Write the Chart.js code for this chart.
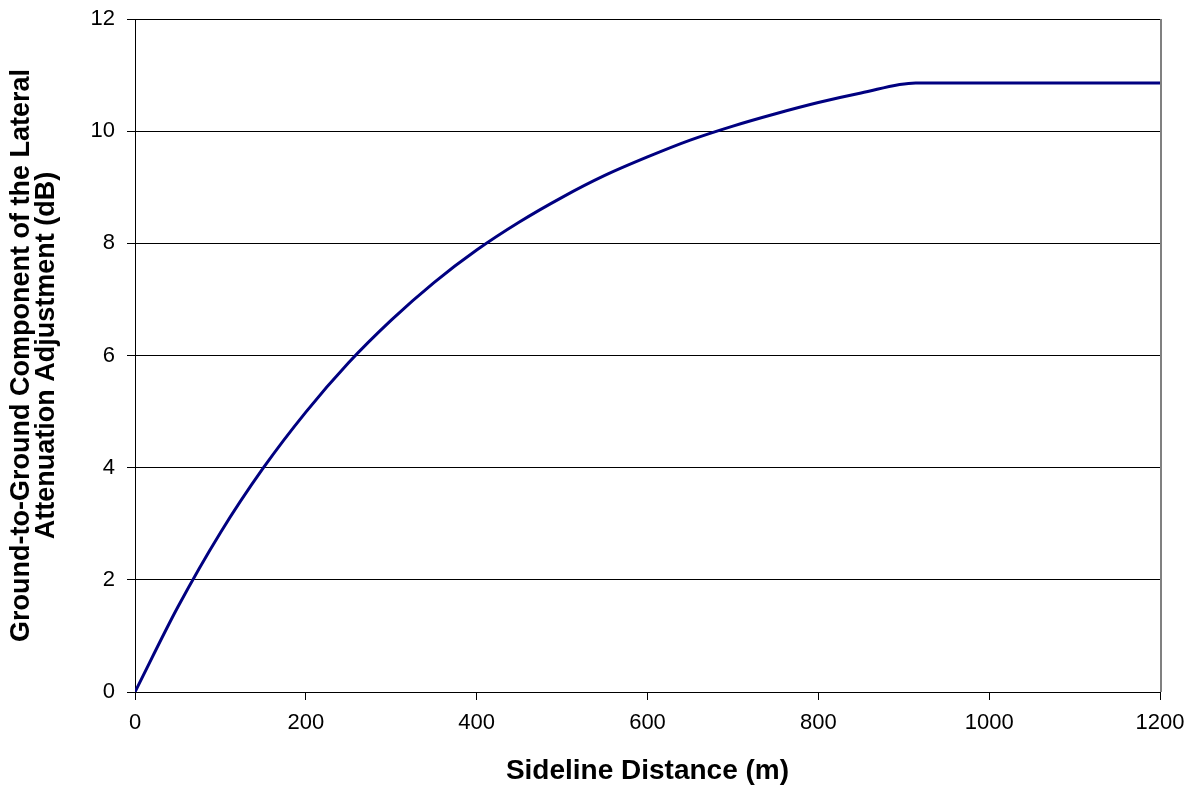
<!DOCTYPE html>
<html>
<head>
<meta charset="utf-8">
<script src="https://cdn.jsdelivr.net/npm/chart.js@4/dist/chart.umd.min.js"></script>
<style>
  html, body { margin: 0; padding: 0; background: #fff; }
  #wrap { width: 1196px; height: 792px; }
</style>
</head>
<body>
<div id="wrap"><canvas id="attenChart" width="1196" height="792"></canvas></div>
<script>
// Sideline distance (m) and attenuation (dB)
const distances = [0, 50, 100, 150, 200, 250, 300, 350, 400, 450, 500, 550, 600, 650, 700, 750, 800, 850, 914, 1000, 1100, 1200];
const attenuation = [0, 1.51, 2.84, 3.99, 4.99, 5.87, 6.63, 7.30, 7.88, 8.38, 8.82, 9.21, 9.54, 9.84, 10.09, 10.31, 10.51, 10.68, 10.86, 10.86, 10.86, 10.86];

const xTitle = 'Sideline Distance (m)';
const yTitle = ['Ground-to-Ground Component of the Lateral', 'Attenuation Adjustment (dB)'];

const points = distances.map((d, i) => ({ x: d, y: attenuation[i] }));

const FONT = 'Liberation Sans, Arial, sans-serif';

// right-hand frame line of the plot area
const frameRight = {
  id: 'frameRight',
  afterDraw(chart) {
    const { ctx, chartArea } = chart;
    ctx.save();
    ctx.strokeStyle = '#808080';
    ctx.lineWidth = 2;
    ctx.beginPath();
    ctx.moveTo(chartArea.right + 1, chartArea.top);
    ctx.lineTo(chartArea.right + 1, chartArea.bottom);
    ctx.stroke();
    ctx.restore();
  }
};

const ctx = document.getElementById('attenChart').getContext('2d');
new Chart(ctx, {
  type: 'scatter',
  data: {
    datasets: [{
      data: points,
      showLine: true,
      borderColor: '#000080',
      borderWidth: 3,
      pointRadius: 0,
      cubicInterpolationMode: 'monotone'
    }]
  },
  options: {
    responsive: false,
    animation: false,
    layout: { padding: { left: 0, right: 36, top: 19, bottom: 0 } },
    plugins: {
      legend: { display: false },
      tooltip: { enabled: false }
    },
    scales: {
      x: {
        type: 'linear',
        min: 0,
        max: 1200,
        ticks: {
          stepSize: 200,
          color: '#000',
          padding: 10,
          font: { family: FONT, size: 22 },
          callback: (v) => String(v)
        },
        grid: { drawOnChartArea: false, tickLength: 8, color: '#000' },
        border: { color: '#000' },
        title: {
          display: true,
          text: xTitle,
          color: '#000',
          padding: { top: 4, bottom: 4 },
          font: { family: FONT, size: 28, weight: 'bold' }
        },
        afterFit(axis) {
          axis.height = 100;
          axis.paddingRight = 0;
          axis.paddingLeft = 0;
        }
      },
      y: {
        min: 0,
        max: 12,
        ticks: {
          stepSize: 2,
          color: '#000',
          padding: 12,
          font: { family: FONT, size: 22 }
        },
        grid: { color: '#000', tickLength: 8 },
        border: { color: '#000' },
        title: {
          display: true,
          text: yTitle,
          color: '#000',
          padding: { top: 9, bottom: 4 },
          font: { family: FONT, size: 27, weight: 'bold', lineHeight: 0.93 }
        },
        afterFit(axis) {
          axis.width = 135;
          axis.paddingTop = 0;
          axis.paddingBottom = 0;
        }
      }
    }
  },
  plugins: [frameRight]
});
</script>
</body>
</html>
